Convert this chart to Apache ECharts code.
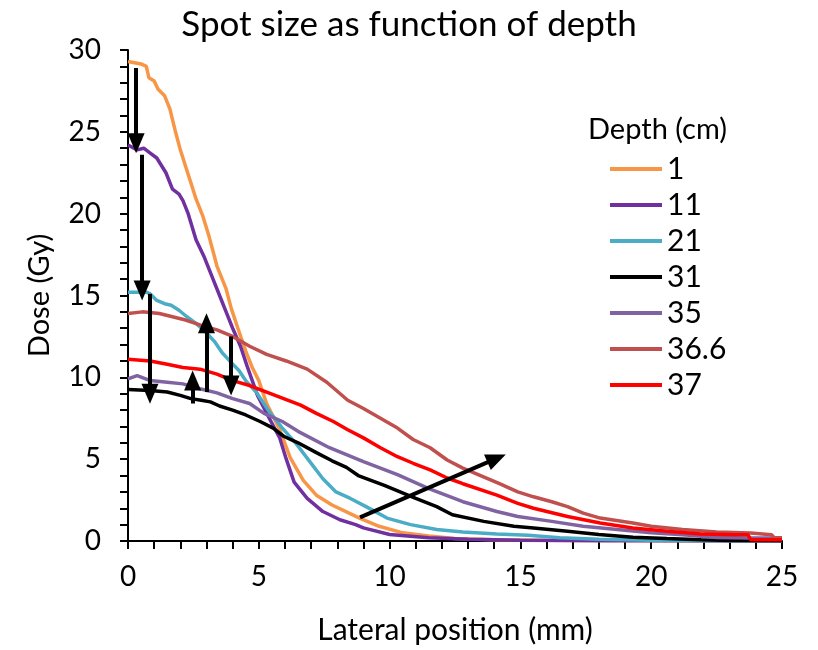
<!DOCTYPE html>
<html>
<head>
<meta charset="utf-8">
<script src="https://cdn.jsdelivr.net/npm/echarts@6/dist/echarts.min.js"></script>
<style>
  html, body { margin: 0; padding: 0; background: #fff; }
  #chart { width: 818px; height: 650px; }
</style>
</head>
<body>
<div id="chart"></div>
<script>
// lateral position (mm), dose (Gy) per depth
const depth1 = [[0,29.3],[0.5,29.15],[0.7,29.0],[0.8,28.3],[1.0,28.1],[1.15,27.6],[1.4,27.2],[1.6,26.4],[1.8,25.1],[2.0,23.9],[2.2,22.9],[2.4,21.9],[2.6,20.9],[2.85,19.9],[3.1,18.6],[3.4,16.8],[3.75,15.4],[3.95,14.2],[4.2,13.0],[4.5,11.6],[4.75,10.6],[5.0,9.8],[5.3,8.4],[5.8,6.8],[6.2,5.1],[6.7,3.7],[7.2,2.8],[7.8,2.2],[8.45,1.7],[8.85,1.4],[9.6,0.9],[10.5,0.5],[11.5,0.3],[12.5,0.15],[14,0.08],[16,0.04],[18,0.02],[20,0.01],[25,0]];
const depth11 = [[0,24.2],[0.35,23.9],[0.6,24.0],[0.85,23.7],[1.1,23.4],[1.45,22.5],[1.7,21.5],[1.95,21.2],[2.1,20.8],[2.3,20.0],[2.6,18.4],[2.9,17.4],[3.25,16.0],[3.55,14.8],[3.75,14.0],[4.0,13.0],[4.3,11.9],[4.55,10.7],[4.95,8.9],[5.4,7.5],[5.8,6.3],[6.05,5.0],[6.35,3.6],[6.85,2.6],[7.45,1.8],[8.1,1.3],[8.7,1.0],[9.0,0.8],[10,0.4],[11.5,0.2],[13,0.1],[15,0.05],[18,0.02],[25,0]];
const depth21 = [[0,15.2],[0.7,15.2],[0.85,15.1],[1.1,14.7],[1.4,14.5],[1.65,14.4],[1.95,14.1],[2.25,13.7],[2.6,13.3],[2.95,12.8],[3.3,12.2],[3.6,11.5],[3.95,10.9],[4.25,10.4],[4.5,9.8],[4.9,9.1],[5.4,7.9],[5.9,6.9],[6.4,6.0],[6.95,4.85],[7.45,3.8],[7.95,3.0],[8.5,2.6],[9.1,2.1],[9.9,1.4],[10.8,1.0],[11.8,0.7],[12.8,0.55],[14.1,0.43],[15.3,0.35],[16.5,0.2],[18,0.1],[20,0.05],[22,0.02],[25,0.01]];
const depth31 = [[0,9.25],[0.85,9.2],[1.5,9.1],[2.0,8.9],[2.4,8.7],[2.8,8.6],[3.15,8.5],[3.5,8.25],[4.0,8.0],[4.5,7.7],[5.05,7.3],[5.55,6.9],[5.95,6.4],[6.5,6.0],[7.2,5.4],[7.8,4.9],[8.35,4.5],[8.8,4.0],[9.8,3.4],[11,2.6],[11.8,2.1],[12.4,1.6],[13.6,1.2],[14.75,0.9],[15.5,0.8],[16.8,0.6],[18,0.4],[19.3,0.23],[20.6,0.15],[21.9,0.08],[23,0.03],[25,0.02]];
const depth35 = [[0,9.9],[0.35,10.1],[0.85,9.8],[1.5,9.7],[2.1,9.6],[2.75,9.3],[3.4,9.05],[4.0,8.7],[4.65,8.4],[5.2,7.8],[5.9,7.3],[6.5,6.7],[7.7,5.7],[9.0,4.85],[10.3,4.05],[11.5,3.2],[12.8,2.4],[14.1,1.8],[14.9,1.5],[16.2,1.2],[17.4,0.9],[18.7,0.7],[20,0.5],[21.2,0.38],[22.5,0.22],[23.8,0.18],[25,0.18]];
const depth366 = [[0,13.9],[0.55,14.0],[1.2,13.9],[1.7,13.7],[2.2,13.5],[2.75,13.2],[3.4,12.9],[4.0,12.5],[4.65,11.9],[5.3,11.4],[6.05,11.0],[6.85,10.5],[7.6,9.7],[8.4,8.6],[9.0,8.1],[9.65,7.5],[10.3,6.9],[10.9,6.2],[11.55,5.7],[12.2,4.95],[12.8,4.45],[14.2,3.5],[14.9,3.0],[15.5,2.7],[16.2,2.4],[16.8,2.1],[17.4,1.7],[18.05,1.4],[19.3,1.1],[20,0.9],[21.2,0.7],[22.5,0.55],[23.8,0.49],[24.6,0.38],[24.7,0.2],[25,0.2]];
const depth37 = [[0,11.1],[0.85,11.0],[1.5,10.8],[2.1,10.6],[2.75,10.5],[3.4,10.2],[4.0,9.8],[4.65,9.5],[5.3,9.1],[5.95,8.7],[6.6,8.3],[7.2,7.8],[7.85,7.3],[8.4,6.8],[9.0,6.3],[9.65,5.7],[10.3,5.15],[10.9,4.75],[11.55,4.35],[12.2,3.85],[12.8,3.5],[14.1,2.8],[14.9,2.3],[15.5,2.0],[16.8,1.5],[18.05,1.1],[19.3,0.8],[20.6,0.6],[21.9,0.43],[23.2,0.38],[23.7,0.38],[23.8,0.08],[25,0.08]];

const depthNames = ['1', '11', '21', '31', '35', '36.6', '37'];
const depthColors = ['#F79646', '#7030A0', '#4BACC6', '#000000', '#8064A2', '#C0504D', '#FF0000'];
const depthData = [depth1, depth11, depth21, depth31, depth35, depth366, depth37];

// annotation arrows: [x1, y1, x2, y2] in data units (mm, Gy)
const arrows = [
  [0.31, 28.9, 0.31, 24.3],
  [0.54, 23.6, 0.54, 15.3],
  [0.84, 15.1, 0.84, 9.0],
  [2.47, 8.4, 2.47, 9.8],
  [3.0, 9.1, 3.0, 13.3],
  [3.94, 12.5, 3.94, 9.5],
  [8.87, 1.44, 14.09, 5.05],
];

const font = 'Lato, "Open Sans", sans-serif';
const chart = echarts.init(document.getElementById('chart'));

const series = depthNames.map((name, i) => ({
  name: name,
  type: 'line',
  data: depthData[i],
  showSymbol: false,
  lineStyle: { width: 3.5, color: depthColors[i] },
  itemStyle: { color: depthColors[i] },
  z: 2,
}));

// arrows go on an empty helper series
series.push({
  type: 'line',
  data: [],
  silent: true,
  markLine: {
    silent: true,
    animation: false,
    symbol: ['none', 'triangle'],
    symbolSize: [17, 20],
    label: { show: false },
    lineStyle: { color: '#000', width: 4, type: 'solid' },
    data: arrows.map(a => [{ coord: [a[0], a[1]] }, { coord: [a[2], a[3]] }]),
  },
  z: 5,
});

chart.setOption({
  animation: false,
  backgroundColor: '#fff',
  textStyle: { fontFamily: font },
  title: [
    {
      text: 'Spot size as function of depth',
      left: 'center',
      top: 2,
      textStyle: { fontSize: 35, fontWeight: 'normal', color: '#000', fontFamily: font },
    },
    {
      text: 'Depth (cm)',
      left: 583,
      top: 110,
      textStyle: { fontSize: 29, fontWeight: 'normal', color: '#000', fontFamily: font },
    },
  ],
  legend: {
    data: depthNames,
    orient: 'vertical',
    left: 605,
    top: 149,
    icon: 'rect',
    itemWidth: 52,
    itemHeight: 4,
    itemGap: 6,
    textStyle: { fontSize: 30, lineHeight: 30, color: '#000', fontFamily: font },
  },
  grid: { left: 128, right: 36, top: 50, bottom: 107 },
  xAxis: {
    type: 'value',
    min: 0,
    max: 25,
    interval: 5,
    name: 'Lateral position (mm)',
    nameLocation: 'middle',
    nameGap: 74,
    nameTextStyle: { fontSize: 30, color: '#000', fontFamily: font },
    axisLine: { onZero: false, lineStyle: { color: '#000', width: 2 } },
    axisTick: { show: true, length: 8, lineStyle: { color: '#000', width: 2 } },
    minorTick: { show: true, splitNumber: 5, length: 8, lineStyle: { color: '#000', width: 2 } },
    axisLabel: { fontSize: 28, color: '#000', margin: 22, fontFamily: font },
    splitLine: { show: false },
  },
  yAxis: {
    type: 'value',
    min: 0,
    max: 30,
    interval: 5,
    name: 'Dose (Gy)',
    nameLocation: 'middle',
    nameGap: 74,
    nameTextStyle: { fontSize: 29, color: '#000', fontFamily: font },
    axisLine: { show: true, lineStyle: { color: '#000', width: 2 } },
    axisTick: { show: true, length: 8, lineStyle: { color: '#000', width: 2 } },
    minorTick: { show: true, splitNumber: 5, length: 8, lineStyle: { color: '#000', width: 2 } },
    axisLabel: { fontSize: 28, color: '#000', margin: 27, fontFamily: font },
    splitLine: { show: false },
  },
  series: series,
});
</script>
</body>
</html>
